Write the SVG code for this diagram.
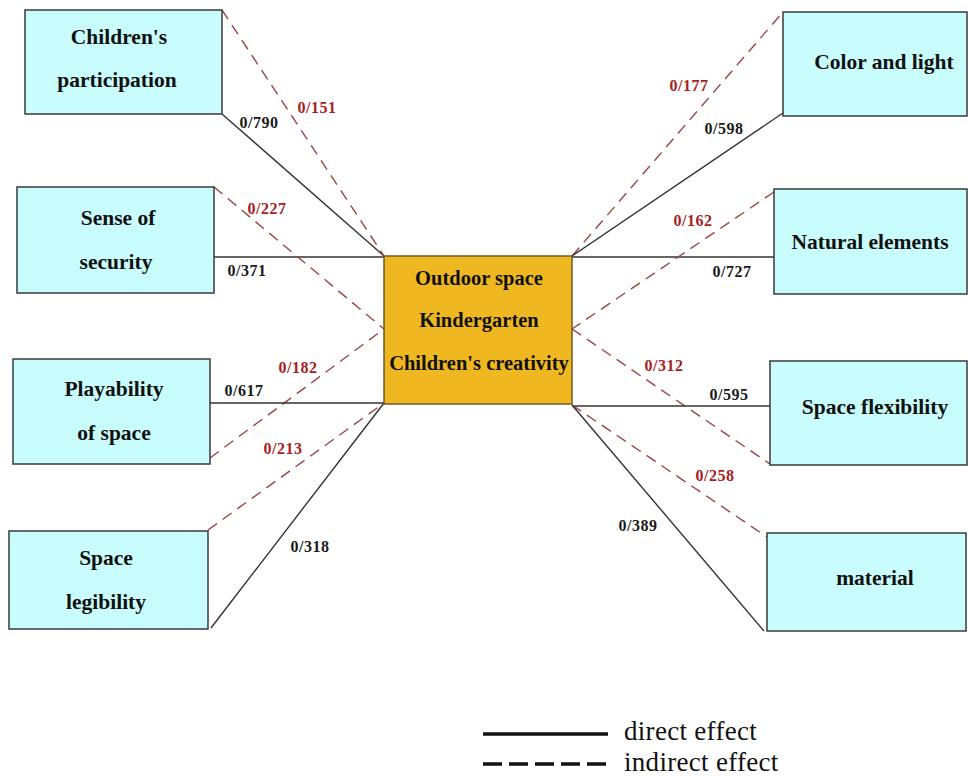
<svg xmlns="http://www.w3.org/2000/svg" width="968" height="777" viewBox="0 0 968 777">
<style>
.box{fill:#c9fcfc;stroke:#3a3a3a;stroke-width:1.5}
.ctr{fill:#efb820;stroke:#6b5a2a;stroke-width:1.5}
.nt{font-family:"Liberation Serif",serif;font-weight:bold;font-size:21.5px;fill:#111;text-anchor:middle;dominant-baseline:central}
.ct{font-family:"Liberation Serif",serif;font-weight:bold;font-size:20.5px;fill:#111;text-anchor:middle;dominant-baseline:central}
.d{stroke:#333;stroke-width:1.4;fill:none}
.i{stroke:#9a4545;stroke-width:1.4;fill:none;stroke-dasharray:11 7}
.ld{font-family:"Liberation Serif",serif;font-weight:bold;font-size:16px;letter-spacing:0.5px;fill:#1a1a1a;text-anchor:middle;dominant-baseline:central}
.li{font-family:"Liberation Serif",serif;font-weight:bold;font-size:16px;letter-spacing:0.5px;fill:#a52222;text-anchor:middle;dominant-baseline:central}
.lg{font-family:"Liberation Serif",serif;font-size:27px;letter-spacing:0.3px;fill:#111;dominant-baseline:central}
</style>
<rect width="968" height="777" fill="#fff"/>
<g id="connectors">
<line class="d" x1="222" y1="114" x2="384" y2="256"/>
<line class="i" x1="222" y1="10" x2="384" y2="256"/>
<line class="d" x1="214" y1="257" x2="384" y2="257"/>
<line class="i" x1="214" y1="187" x2="384" y2="329"/>
<line class="i" x1="210" y1="458" x2="384" y2="329"/>
<line class="d" x1="210" y1="403" x2="384" y2="403"/>
<line class="i" x1="208" y1="530" x2="384" y2="403"/>
<line class="d" x1="211" y1="628" x2="384" y2="403"/>
<line class="i" x1="572" y1="256" x2="783" y2="12"/>
<line class="d" x1="572" y1="256" x2="783" y2="113"/>
<line class="d" x1="572" y1="257" x2="774" y2="257"/>
<line class="i" x1="774" y1="192" x2="572" y2="329"/>
<line class="i" x1="572" y1="329" x2="770" y2="464"/>
<line class="d" x1="572" y1="406" x2="770" y2="406"/>
<line class="i" x1="572" y1="405" x2="767" y2="537"/>
<line class="d" x1="572" y1="405" x2="764" y2="631"/>
</g>
<g id="labels">
<text class="li" x="317" y="107">0/151</text>
<text class="ld" x="259" y="122">0/790</text>
<text class="li" x="267" y="208">0/227</text>
<text class="ld" x="247" y="270">0/371</text>
<text class="li" x="298" y="367">0/182</text>
<text class="ld" x="244" y="390">0/617</text>
<text class="li" x="283" y="448">0/213</text>
<text class="ld" x="310" y="546">0/318</text>
<text class="li" x="689" y="85">0/177</text>
<text class="ld" x="724" y="128">0/598</text>
<text class="li" x="693" y="220">0/162</text>
<text class="ld" x="732" y="271">0/727</text>
<text class="li" x="664" y="365">0/312</text>
<text class="ld" x="729" y="394">0/595</text>
<text class="li" x="715" y="475">0/258</text>
<text class="ld" x="638" y="525">0/389</text>
</g>
<g id="center">
<rect class="ctr" x="384" y="256" width="188" height="148"/>
<text class="ct" x="479" y="278">Outdoor space</text>
<text class="ct" x="479" y="320">Kindergarten</text>
<text class="ct" x="479" y="363">Children's creativity</text>
</g>
<g id="childrens-participation">
<rect class="box" x="25" y="10" width="197" height="104"/>
<text class="nt" x="119" y="37">Children's</text>
<text class="nt" x="117" y="80">participation</text>
</g>
<g id="sense-of-security">
<rect class="box" x="17" y="187" width="197" height="106"/>
<text class="nt" x="118" y="218">Sense of</text>
<text class="nt" x="116" y="262">security</text>
</g>
<g id="playability">
<rect class="box" x="13" y="359" width="197" height="105"/>
<text class="nt" x="114" y="389">Playability</text>
<text class="nt" x="114" y="433">of space</text>
</g>
<g id="space-legibility">
<rect class="box" x="9" y="531" width="199" height="98"/>
<text class="nt" x="106" y="558">Space</text>
<text class="nt" x="106" y="602">legibility</text>
</g>
<g id="color-and-light">
<rect class="box" x="783" y="12" width="184" height="104"/>
<text class="nt" x="884" y="62">Color and light</text>
</g>
<g id="natural-elements">
<rect class="box" x="774" y="189" width="193" height="105"/>
<text class="nt" x="870" y="242">Natural elements</text>
</g>
<g id="space-flexibility">
<rect class="box" x="770" y="361" width="197" height="104"/>
<text class="nt" x="875" y="407">Space flexibility</text>
</g>
<g id="material">
<rect class="box" x="767" y="533" width="199" height="98"/>
<text class="nt" x="875" y="578">material</text>
</g>
<g id="legend">
<line x1="483" y1="734" x2="608" y2="734" stroke="#111" stroke-width="3.5"/>
<text class="lg" x="624" y="731">direct effect</text>
<line x1="483" y1="764" x2="608" y2="764" stroke="#111" stroke-width="3.5" stroke-dasharray="19 7"/>
<text class="lg" x="624" y="762">indirect effect</text>
</g>
</svg>
